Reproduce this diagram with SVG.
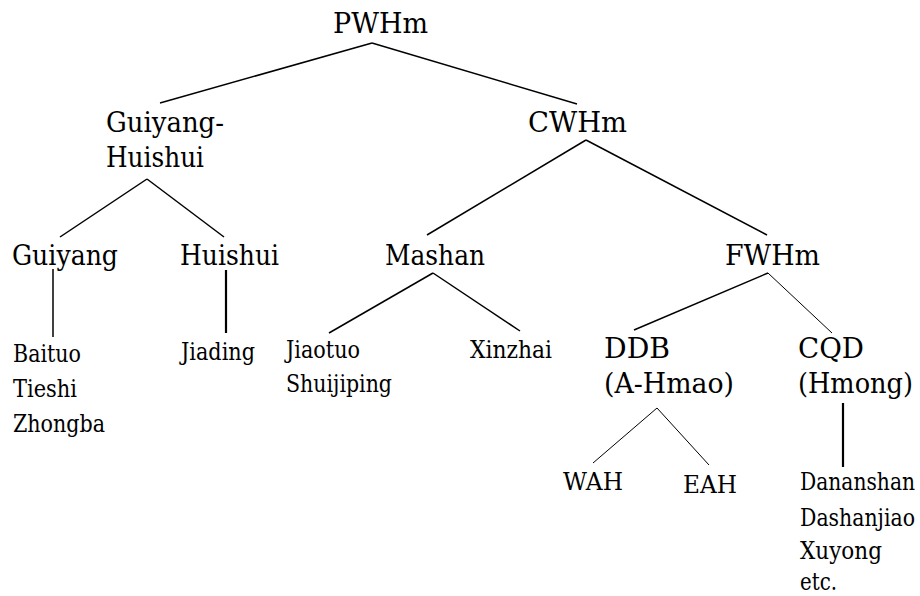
<svg xmlns="http://www.w3.org/2000/svg" width="920" height="596" viewBox="0 0 920 596">
  <style>
    text { font-family: "DejaVu Serif", serif; fill: #000; }
    .big { font-size: 28px; }
    .small { font-size: 23.5px; }
    .edge { stroke: #000; stroke-width: 1.5; fill: none; }
    .thin { stroke-width: 1; }
    .thick { stroke-width: 2.2; }
  </style>
  <rect width="920" height="596" fill="#fff"/>

  <!-- tree branches -->
  <g id="connectors">
    <line class="edge" x1="372" y1="43" x2="160" y2="103"/>
    <line class="edge" x1="372" y1="43" x2="577" y2="104"/>
    <line class="edge" x1="147" y1="179" x2="60" y2="237"/>
    <line class="edge" x1="147" y1="179" x2="224" y2="237"/>
    <line class="edge" x1="586" y1="140" x2="427" y2="235"/>
    <line class="edge" x1="586" y1="140" x2="767" y2="235"/>
    <line class="edge" x1="53" y1="269" x2="53" y2="337"/>
    <line class="edge thick" x1="226" y1="270" x2="226" y2="333"/>
    <line class="edge" x1="433" y1="273" x2="329" y2="333"/>
    <line class="edge" x1="433" y1="273" x2="520" y2="331"/>
    <line class="edge" x1="768" y1="273" x2="634" y2="330"/>
    <line class="edge thin" x1="768" y1="273" x2="832" y2="333"/>
    <line class="edge thin" x1="657" y1="408" x2="593" y2="463"/>
    <line class="edge thin" x1="657" y1="408" x2="709" y2="465"/>
    <line class="edge thick" x1="843" y1="403" x2="843" y2="467"/>
  </g>

  <g id="pwhm"><text class="big" x="333" y="33" textLength="95" lengthAdjust="spacingAndGlyphs">PWHm</text></g>
  <g id="guiyang-huishui">
    <text class="big" x="106" y="132" textLength="118" lengthAdjust="spacingAndGlyphs">Guiyang-</text>
    <text class="big" x="106" y="167" textLength="98" lengthAdjust="spacingAndGlyphs">Huishui</text>
  </g>
  <g id="cwhm"><text class="big" x="528" y="132" textLength="99" lengthAdjust="spacingAndGlyphs">CWHm</text></g>
  <g id="guiyang"><text class="big" x="12" y="265" textLength="106" lengthAdjust="spacingAndGlyphs">Guiyang</text></g>
  <g id="huishui"><text class="big" x="180" y="265" textLength="99" lengthAdjust="spacingAndGlyphs">Huishui</text></g>
  <g id="mashan"><text class="big" x="385" y="265" textLength="100" lengthAdjust="spacingAndGlyphs">Mashan</text></g>
  <g id="fwhm"><text class="big" x="725" y="265" textLength="95" lengthAdjust="spacingAndGlyphs">FWHm</text></g>

  <g id="guiyang-villages">
    <text class="small" x="13" y="362" textLength="68" lengthAdjust="spacingAndGlyphs">Baituo</text>
    <text class="small" x="13" y="397" textLength="64" lengthAdjust="spacingAndGlyphs">Tieshi</text>
    <text class="small" x="13" y="432" textLength="92" lengthAdjust="spacingAndGlyphs">Zhongba</text>
  </g>
  <g id="jiading"><text class="small" x="181" y="360" textLength="74" lengthAdjust="spacingAndGlyphs">Jiading</text></g>
  <g id="mashan-villages">
    <text class="small" x="286" y="358" textLength="74" lengthAdjust="spacingAndGlyphs">Jiaotuo</text>
    <text class="small" x="286" y="392" textLength="106" lengthAdjust="spacingAndGlyphs">Shuijiping</text>
  </g>
  <g id="xinzhai"><text class="small" x="470" y="358" textLength="82" lengthAdjust="spacingAndGlyphs">Xinzhai</text></g>
  <g id="ddb">
    <text class="big" x="604" y="358" textLength="66" lengthAdjust="spacingAndGlyphs">DDB</text>
    <text class="big" x="604" y="393" textLength="130" lengthAdjust="spacingAndGlyphs">(A-Hmao)</text>
  </g>
  <g id="cqd">
    <text class="big" x="798" y="358" textLength="66" lengthAdjust="spacingAndGlyphs">CQD</text>
    <text class="big" x="798" y="393" textLength="115" lengthAdjust="spacingAndGlyphs">(Hmong)</text>
  </g>
  <g id="wah"><text class="small" x="563" y="490" textLength="60" lengthAdjust="spacingAndGlyphs">WAH</text></g>
  <g id="eah"><text class="small" x="683" y="493" textLength="54" lengthAdjust="spacingAndGlyphs">EAH</text></g>
  <g id="cqd-villages">
    <text class="small" x="800" y="490" textLength="115" lengthAdjust="spacingAndGlyphs">Dananshan</text>
    <text class="small" x="800" y="526" textLength="115" lengthAdjust="spacingAndGlyphs">Dashanjiao</text>
    <text class="small" x="800" y="559" textLength="82" lengthAdjust="spacingAndGlyphs">Xuyong</text>
    <text class="small" x="800" y="590" textLength="37" lengthAdjust="spacingAndGlyphs">etc.</text>
  </g>
</svg>
